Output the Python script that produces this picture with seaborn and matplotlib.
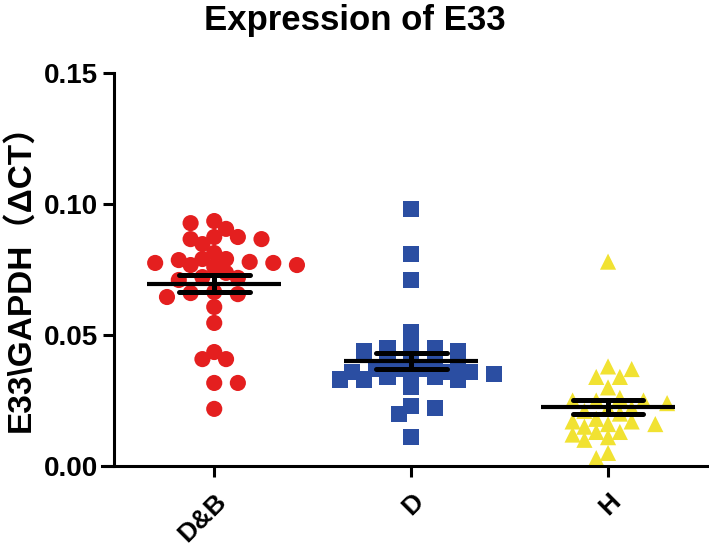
import numpy as np
import pandas as pd
import seaborn as sns
import matplotlib.pyplot as plt
from matplotlib.ticker import FormatStrFormatter

groups = ["D&B", "D", "H"]
colors = ["#E41F1F", "#2B4EA2", "#F1E232"]
markers = ["o", "s", "^"]

dnb_values = [0.0935, 0.0927, 0.0905, 0.0874, 0.0874, 0.0866, 0.0866, 0.0847,
              0.0813, 0.0790, 0.0790, 0.0786, 0.0779, 0.0775, 0.0775, 0.0767,
              0.0767, 0.0760, 0.0737, 0.0721, 0.0718, 0.0710, 0.0664, 0.0660,
              0.0656, 0.0645, 0.0607, 0.0546, 0.0435, 0.0408, 0.0408, 0.0317,
              0.0317, 0.0218]
d_values = [0.098, 0.081, 0.071, 0.051, 0.045, 0.044, 0.044, 0.045, 0.045,
            0.040, 0.039, 0.040, 0.039, 0.037, 0.036, 0.037, 0.036, 0.037,
            0.035, 0.034, 0.033, 0.033, 0.033, 0.034, 0.035, 0.036, 0.030,
            0.022, 0.020, 0.023, 0.011]
h_values = [0.078, 0.038, 0.037, 0.034, 0.034, 0.030, 0.026, 0.025, 0.025,
            0.025, 0.024, 0.022, 0.022, 0.021, 0.020, 0.018, 0.017, 0.017,
            0.016, 0.016, 0.015, 0.013, 0.012, 0.013, 0.011, 0.010, 0.005,
            0.003]
y_ticks = [0.00, 0.05, 0.10, 0.15]


def column_offsets(values, step=0.06, min_px=12.5, px_x=197, px_y=2620):
    # GraphPad-like scatter: greedy placement into columns, markers may overlap a bit
    v = np.asarray(values)
    placed_x, placed_y = [], []
    offs = np.zeros(len(v))
    for n, i in enumerate(np.argsort(-v, kind="stable")):
        sign = 1 if n % 2 == 0 else -1
        slots = [0]
        for k in range(1, 12):
            slots += [sign * k, -sign * k]
        for k in slots:
            x = k * step
            if not placed_x:
                break
            d = np.hypot((np.array(placed_x) - x) * px_x, (np.array(placed_y) - v[i]) * px_y)
            if d.min() >= min_px:
                break
        offs[i] = x
        placed_x.append(x)
        placed_y.append(v[i])
    return offs


all_values = [dnb_values, d_values, h_values]
df = pd.DataFrame({
    "group": np.repeat(groups, [len(v) for v in all_values]),
    "value": np.concatenate(all_values),
})
df["xpos"] = np.concatenate([i + column_offsets(v) for i, v in enumerate(all_values)])

sns.set_theme(style="ticks")
plt.rcParams["font.family"] = ["Liberation Sans", "Noto Sans CJK SC"]
plt.rcParams["font.weight"] = "bold"
plt.rcParams["text.color"] = "black"

fig = plt.figure(figsize=(7.09, 5.53), dpi=100)
ax = fig.add_axes([102 / 709, 1 - 466 / 553, 604.5 / 709, 393 / 553])

sns.scatterplot(data=df, x="xpos", y="value", hue="group", style="group",
                hue_order=groups, style_order=groups,
                palette=dict(zip(groups, colors)), markers=dict(zip(groups, markers)),
                s=135, linewidth=0, alpha=1, legend=False, zorder=2, ax=ax)

# mean line + SEM bars
sns.pointplot(data=df, x="group", y="value", order=groups, errorbar="se",
              capsize=0.36, color="black", linestyle="none", marker="_",
              markersize=96, markeredgewidth=3, zorder=5,
              err_kws={"linewidth": 3.6, "zorder": 5}, ax=ax)

ax.set_xlim(-0.57, 2.5)
ax.set_ylim(0, 0.15)
ax.set_yticks(y_ticks)
ax.yaxis.set_major_formatter(FormatStrFormatter("%.2f"))
ax.set_xticks(range(len(groups)))
ax.set_xticklabels(groups)

for s in ["top", "right"]:
    ax.spines[s].set_visible(False)
ax.spines["left"].set_position(("data", -0.51))
for s in ["left", "bottom"]:
    ax.spines[s].set_linewidth(2.2)
    ax.spines[s].set_color("black")

ax.tick_params(axis="both", width=2.2, length=8, labelsize=20, color="black",
               labelcolor="black")
ax.tick_params(axis="x", pad=9, labelsize=19)
plt.setp(ax.get_xticklabels(), rotation=45, ha="right", rotation_mode="anchor",
         fontweight="bold")
plt.setp(ax.get_yticklabels(), fontweight="bold")

ax.set_xlabel("")
ax.set_ylabel("E33\\GAPDH（ΔCT）", fontsize=24, fontweight="bold", color="black")
ax.yaxis.set_label_coords(-0.108, 0.5)

fig.text(0.5, 1 - 30 / 553, "Expression of E33", ha="center", va="baseline",
         fontsize=25, fontweight="bold", color="black")

fig.savefig("out.png", dpi=100)
